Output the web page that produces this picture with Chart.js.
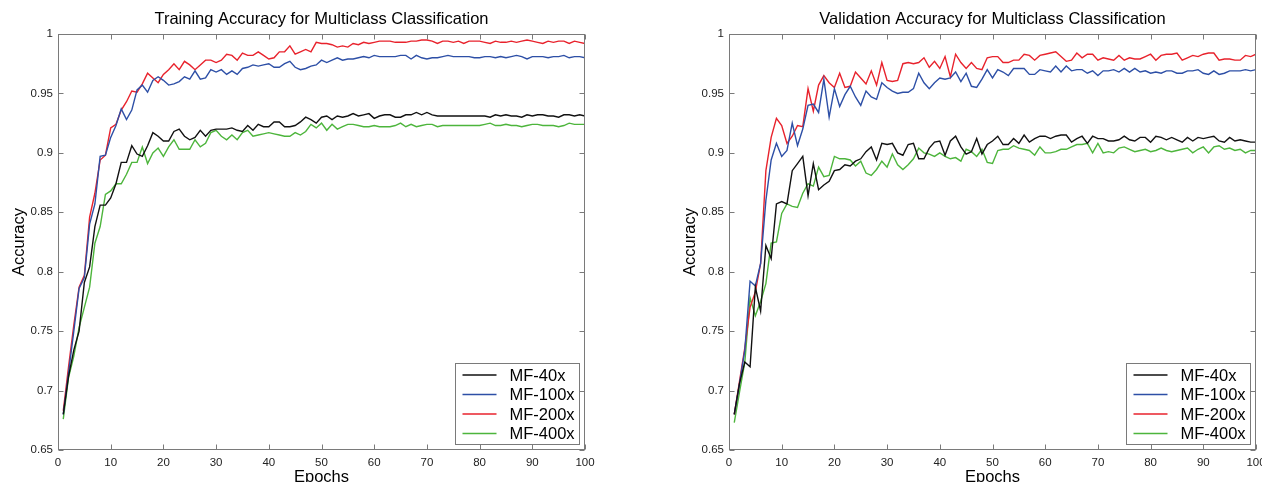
<!DOCTYPE html>
<html>
<head>
<meta charset="utf-8">
<script src="https://cdn.jsdelivr.net/npm/chart.js@4.4.1/dist/chart.umd.min.js"></script>
<style>
	html, body { margin: 0; padding: 0; background: #fff; }
	#wrap { position: relative; width: 1262px; height: 482px; overflow: hidden; }
	canvas { position: absolute; top: 0; }
</style>
</head>
<body>
<div id="wrap">
	<canvas id="chart-train" width="631" height="482" style="left:0"></canvas>
	<canvas id="chart-valid" width="631" height="482" style="left:631px"></canvas>
</div>
<script>
// Series names and epochs (x axis runs 0..100)
const SERIES_NAMES = ["MF-40x", "MF-100x", "MF-200x", "MF-400x"];
const EPOCHS = Array.from({ length: 100 }, (_, i) => i + 1);

// Tick values
const X_TICKS = [0, 10, 20, 30, 40, 50, 60, 70, 80, 90, 100];
const Y_TICKS = [0.65, 0.7, 0.75, 0.8, 0.85, 0.9, 0.95, 1];

// Training accuracy
const TRAIN_40X = [
	0.680, 0.712, 0.734, 0.750, 0.791, 0.804, 0.838, 0.856, 0.856, 0.862,
	0.874, 0.892, 0.892, 0.906, 0.899, 0.897, 0.906, 0.917, 0.914, 0.910,
	0.910, 0.918, 0.920, 0.914, 0.911, 0.913, 0.919, 0.914, 0.919, 0.920,
	0.920, 0.920, 0.921, 0.919, 0.918, 0.923, 0.919, 0.924, 0.922, 0.922,
	0.926, 0.926, 0.922, 0.922, 0.923, 0.926, 0.930, 0.928, 0.925, 0.930,
	0.931, 0.928, 0.931, 0.930, 0.931, 0.933, 0.931, 0.932, 0.933, 0.929,
	0.931, 0.932, 0.932, 0.930, 0.930, 0.932, 0.932, 0.934, 0.932, 0.934,
	0.932, 0.931, 0.931, 0.931, 0.931, 0.931, 0.931, 0.931, 0.931, 0.931,
	0.931, 0.930, 0.932, 0.931, 0.932, 0.931, 0.931, 0.930, 0.932, 0.931,
	0.932, 0.932, 0.931, 0.931, 0.930, 0.932, 0.932, 0.931, 0.932, 0.931,
];
const TRAIN_100X = [
	0.680, 0.715, 0.750, 0.786, 0.795, 0.840, 0.857, 0.897, 0.898, 0.913,
	0.923, 0.937, 0.928, 0.936, 0.953, 0.957, 0.951, 0.961, 0.964, 0.961,
	0.957, 0.958, 0.960, 0.964, 0.962, 0.969, 0.962, 0.963, 0.970, 0.968,
	0.970, 0.966, 0.969, 0.966, 0.971, 0.972, 0.974, 0.973, 0.974, 0.975,
	0.972, 0.972, 0.975, 0.977, 0.972, 0.970, 0.971, 0.973, 0.974, 0.978,
	0.976, 0.978, 0.980, 0.978, 0.979, 0.979, 0.980, 0.981, 0.980, 0.982,
	0.981, 0.981, 0.981, 0.981, 0.982, 0.982, 0.979, 0.982, 0.980, 0.979,
	0.980, 0.980, 0.981, 0.982, 0.981, 0.981, 0.981, 0.981, 0.980, 0.980,
	0.981, 0.981, 0.980, 0.981, 0.980, 0.981, 0.982, 0.981, 0.979, 0.981,
	0.981, 0.981, 0.980, 0.981, 0.981, 0.982, 0.980, 0.981, 0.981, 0.980,
];
const TRAIN_200X = [
	0.683, 0.720, 0.755, 0.787, 0.797, 0.846, 0.866, 0.894, 0.898, 0.921,
	0.924, 0.936, 0.943, 0.952, 0.951, 0.958, 0.967, 0.963, 0.959, 0.966,
	0.970, 0.975, 0.970, 0.977, 0.974, 0.970, 0.974, 0.978, 0.978, 0.976,
	0.978, 0.983, 0.982, 0.978, 0.984, 0.982, 0.982, 0.985, 0.982, 0.979,
	0.980, 0.985, 0.985, 0.990, 0.983, 0.985, 0.987, 0.985, 0.993, 0.992,
	0.992, 0.991, 0.989, 0.990, 0.989, 0.992, 0.991, 0.993, 0.992, 0.993,
	0.994, 0.994, 0.994, 0.993, 0.993, 0.993, 0.994, 0.994, 0.995, 0.995,
	0.994, 0.992, 0.994, 0.994, 0.993, 0.994, 0.992, 0.994, 0.994, 0.994,
	0.993, 0.992, 0.994, 0.993, 0.993, 0.994, 0.993, 0.994, 0.995, 0.994,
	0.993, 0.992, 0.994, 0.993, 0.994, 0.994, 0.992, 0.994, 0.993, 0.992,
];
const TRAIN_400X = [
	0.676, 0.711, 0.729, 0.753, 0.770, 0.787, 0.824, 0.838, 0.865, 0.868,
	0.874, 0.874, 0.882, 0.892, 0.892, 0.905, 0.891, 0.900, 0.904, 0.897,
	0.905, 0.911, 0.903, 0.903, 0.903, 0.911, 0.905, 0.908, 0.917, 0.919,
	0.914, 0.911, 0.915, 0.911, 0.917, 0.919, 0.914, 0.915, 0.916, 0.917,
	0.916, 0.915, 0.914, 0.914, 0.917, 0.915, 0.918, 0.924, 0.921, 0.925,
	0.919, 0.924, 0.920, 0.922, 0.924, 0.924, 0.923, 0.922, 0.922, 0.923,
	0.922, 0.922, 0.922, 0.923, 0.925, 0.922, 0.924, 0.922, 0.923, 0.924,
	0.924, 0.922, 0.923, 0.923, 0.923, 0.923, 0.923, 0.923, 0.923, 0.923,
	0.924, 0.925, 0.923, 0.923, 0.924, 0.923, 0.923, 0.922, 0.923, 0.924,
	0.924, 0.923, 0.923, 0.923, 0.922, 0.923, 0.925, 0.924, 0.924, 0.924,
];

// Validation accuracy
const VALID_40X = [
	0.680, 0.706, 0.724, 0.720, 0.787, 0.767, 0.822, 0.811, 0.857, 0.859,
	0.857, 0.885, 0.891, 0.897, 0.864, 0.891, 0.869, 0.873, 0.876, 0.885,
	0.886, 0.890, 0.889, 0.893, 0.895, 0.901, 0.905, 0.894, 0.908, 0.907,
	0.908, 0.900, 0.898, 0.907, 0.908, 0.895, 0.895, 0.904, 0.909, 0.910,
	0.898, 0.910, 0.914, 0.905, 0.899, 0.901, 0.912, 0.899, 0.907, 0.910,
	0.914, 0.907, 0.907, 0.912, 0.908, 0.915, 0.909, 0.912, 0.914, 0.914,
	0.912, 0.914, 0.915, 0.915, 0.909, 0.912, 0.914, 0.908, 0.914, 0.912,
	0.912, 0.910, 0.910, 0.911, 0.914, 0.911, 0.910, 0.913, 0.913, 0.909,
	0.914, 0.913, 0.911, 0.913, 0.911, 0.909, 0.913, 0.910, 0.913, 0.912,
	0.913, 0.914, 0.910, 0.909, 0.913, 0.910, 0.911, 0.910, 0.909, 0.909,
];
const VALID_100X = [
	0.680, 0.706, 0.734, 0.792, 0.788, 0.807, 0.860, 0.894, 0.908, 0.897,
	0.902, 0.925, 0.906, 0.920, 0.940, 0.941, 0.934, 0.962, 0.930, 0.954,
	0.939, 0.949, 0.956, 0.947, 0.940, 0.952, 0.947, 0.945, 0.959, 0.955,
	0.952, 0.950, 0.951, 0.951, 0.954, 0.967, 0.959, 0.954, 0.959, 0.963,
	0.962, 0.963, 0.968, 0.960, 0.967, 0.956, 0.955, 0.962, 0.970, 0.963,
	0.970, 0.968, 0.965, 0.971, 0.971, 0.971, 0.966, 0.966, 0.970, 0.969,
	0.968, 0.973, 0.968, 0.973, 0.969, 0.970, 0.970, 0.967, 0.969, 0.965,
	0.969, 0.969, 0.970, 0.968, 0.971, 0.968, 0.971, 0.968, 0.969, 0.967,
	0.968, 0.967, 0.969, 0.969, 0.967, 0.967, 0.969, 0.969, 0.970, 0.967,
	0.966, 0.969, 0.966, 0.967, 0.969, 0.969, 0.969, 0.970, 0.969, 0.970,
];
const VALID_200X = [
	0.680, 0.708, 0.736, 0.770, 0.783, 0.807, 0.885, 0.913, 0.929, 0.923,
	0.908, 0.914, 0.923, 0.922, 0.954, 0.935, 0.957, 0.965, 0.959, 0.955,
	0.967, 0.955, 0.956, 0.968, 0.963, 0.958, 0.969, 0.957, 0.976, 0.961,
	0.960, 0.961, 0.975, 0.976, 0.975, 0.976, 0.980, 0.972, 0.977, 0.971,
	0.981, 0.964, 0.983, 0.976, 0.971, 0.976, 0.971, 0.970, 0.980, 0.981,
	0.981, 0.976, 0.976, 0.978, 0.978, 0.983, 0.982, 0.978, 0.982, 0.983,
	0.984, 0.985, 0.981, 0.977, 0.978, 0.984, 0.980, 0.983, 0.983, 0.978,
	0.980, 0.979, 0.978, 0.982, 0.978, 0.980, 0.979, 0.979, 0.981, 0.983,
	0.978, 0.982, 0.983, 0.983, 0.984, 0.978, 0.980, 0.982, 0.981, 0.983,
	0.984, 0.984, 0.978, 0.979, 0.979, 0.978, 0.978, 0.982, 0.981, 0.983,
];
const VALID_400X = [
	0.673, 0.699, 0.724, 0.778, 0.763, 0.775, 0.790, 0.824, 0.825, 0.849,
	0.857, 0.855, 0.854, 0.866, 0.874, 0.872, 0.888, 0.880, 0.881, 0.897,
	0.895, 0.895, 0.894, 0.889, 0.893, 0.883, 0.881, 0.886, 0.893, 0.888,
	0.899, 0.890, 0.886, 0.890, 0.895, 0.904, 0.900, 0.899, 0.897, 0.900,
	0.897, 0.895, 0.896, 0.893, 0.903, 0.901, 0.897, 0.903, 0.892, 0.891,
	0.902, 0.903, 0.903, 0.906, 0.904, 0.903, 0.902, 0.898, 0.905, 0.900,
	0.900, 0.901, 0.903, 0.903, 0.905, 0.907, 0.907, 0.908, 0.900, 0.908,
	0.900, 0.901, 0.900, 0.904, 0.905, 0.903, 0.901, 0.902, 0.903, 0.901,
	0.902, 0.904, 0.902, 0.901, 0.902, 0.903, 0.904, 0.900, 0.903, 0.905,
	0.900, 0.905, 0.906, 0.903, 0.904, 0.902, 0.903, 0.900, 0.902, 0.902,
];

const COLORS = ["#111111", "#2d4fa6", "#e8222c", "#4db53c"];
const FONT = "'Liberation Sans', Arial, sans-serif";
const FRAME_COLOR = "#7a7a7a";
const TICK_LEN = 5;

//---------------------------------------------------------
// Plugins
//---------------------------------------------------------

// Box around the plot area with inward ticks on all four sides
const framePlugin = {
	id: "frame",
	afterDatasetsDraw(chart) {
		const { ctx, chartArea: a, scales } = chart;
		const l = Math.round(a.left) + 0.5;
		const r = Math.round(a.right) - 0.5;
		const t = Math.round(a.top) + 0.5;
		const b = Math.round(a.bottom) - 0.5;
		ctx.save();
		ctx.strokeStyle = FRAME_COLOR;
		ctx.lineWidth = 1;
		ctx.beginPath();
		scales.x.ticks.forEach((tk) => {
			const px = Math.round(scales.x.getPixelForValue(tk.value)) + 0.5;
			ctx.moveTo(px, b);
			ctx.lineTo(px, b - TICK_LEN);
			ctx.moveTo(px, t);
			ctx.lineTo(px, t + TICK_LEN);
		});
		scales.y.ticks.forEach((tk) => {
			const py = Math.round(scales.y.getPixelForValue(tk.value)) + 0.5;
			ctx.moveTo(l, py);
			ctx.lineTo(l + TICK_LEN, py);
			ctx.moveTo(r, py);
			ctx.lineTo(r - TICK_LEN, py);
		});
		ctx.stroke();
		ctx.strokeRect(l, t, r - l, b - t);
		ctx.restore();
	},
};

// Title and axis labels, centred on the plot area
const textPlugin = {
	id: "texts",
	afterDraw(chart, args, opts) {
		const { ctx, chartArea: a } = chart;
		const cx = (a.left + a.right) / 2;
		const cy = (a.top + a.bottom) / 2;
		ctx.save();
		ctx.fillStyle = "#000";
		ctx.textAlign = "center";
		ctx.textBaseline = "alphabetic";
		ctx.font = `16.5px ${FONT}`;
		ctx.fillText(opts.title, cx, 24);
		ctx.font = `16.5px ${FONT}`;
		ctx.fillText("Epochs", cx, 482);
		ctx.translate(a.left - 34, cy);
		ctx.rotate(-Math.PI / 2);
		ctx.fillText("Accuracy", 0, 0);
		ctx.restore();
	},
};

// Legend box in the lower right corner of the plot area
const legendPlugin = {
	id: "boxLegend",
	afterDatasetsDraw(chart) {
		const { ctx, chartArea: a } = chart;
		const w = 124;
		const h = 81;
		const x0 = Math.round(a.right - 6 - w) + 0.5;
		const y0 = Math.round(a.bottom - 6 - h) + 0.5;
		ctx.save();
		ctx.fillStyle = "#fff";
		ctx.fillRect(x0, y0, w, h);
		ctx.strokeStyle = FRAME_COLOR;
		ctx.lineWidth = 1;
		ctx.strokeRect(x0, y0, w, h);
		ctx.font = `16.5px ${FONT}`;
		ctx.textBaseline = "middle";
		ctx.textAlign = "left";
		chart.data.datasets.forEach((ds, i) => {
			const yy = y0 + 11.5 + i * 19.5;
			ctx.strokeStyle = ds.borderColor;
			ctx.lineWidth = 1.5;
			ctx.beginPath();
			ctx.moveTo(x0 + 7, yy);
			ctx.lineTo(x0 + 41, yy);
			ctx.stroke();
			ctx.fillStyle = "#000";
			ctx.fillText(ds.label, x0 + 54, yy + 1);
		});
		ctx.restore();
	},
};

//---------------------------------------------------------
// Chart builder
//---------------------------------------------------------

const makeChart = (id, title, seriesList, axisWidth, padRight) => {
	const CHART_DATA = {
		datasets: seriesList.map((values, i) => ({
			label: SERIES_NAMES[i],
			data: EPOCHS.map((e, j) => ({ x: e, y: values[j] })),
			borderColor: COLORS[i],
			backgroundColor: COLORS[i],
			borderWidth: 1.4,
			pointRadius: 0,
			tension: 0,
			fill: false,
		})),
	};

	const CHART_CONFIG = {
		type: "line",
		data: CHART_DATA,
		options: {
			responsive: false,
			animation: false,
			devicePixelRatio: 1,
			layout: {
				padding: { left: 0, top: 34, right: padRight, bottom: 0 },
			},
			plugins: {
				legend: { display: false },
				title: { display: false },
				tooltip: { enabled: false },
				texts: { title: title },
			},
			scales: {
				x: {
					type: "linear",
					min: 0,
					max: 100,
					border: { display: false },
					grid: { display: false, drawTicks: false },
					afterBuildTicks: (s) => {
						s.ticks = X_TICKS.map((v) => ({ value: v }));
					},
					ticks: {
						padding: 6,
						color: "#222",
						maxRotation: 0,
						autoSkip: false,
						font: { family: FONT, size: 11.5 },
					},
					afterFit: (s) => {
						s.height = 32;
						s.paddingLeft = 0;
						s.paddingRight = 0;
					},
				},
				y: {
					min: 0.65,
					max: 1,
					border: { display: false },
					grid: { display: false, drawTicks: false },
					afterBuildTicks: (s) => {
						s.ticks = Y_TICKS.map((v) => ({ value: v }));
					},
					ticks: {
						padding: 5,
						color: "#222",
						autoSkip: false,
						font: { family: FONT, size: 11.5 },
						callback: (v) => String(+v.toFixed(2)),
					},
					afterFit: (s) => {
						s.width = axisWidth;
						s.paddingTop = 0;
						s.paddingBottom = 0;
					},
				},
			},
		},
		plugins: [framePlugin, legendPlugin, textPlugin],
	};

	return new Chart(document.getElementById(id), CHART_CONFIG);
};

makeChart(
	"chart-train",
	"Training Accuracy for Multiclass Classification",
	[TRAIN_40X, TRAIN_100X, TRAIN_200X, TRAIN_400X],
	58,
	46
);
makeChart(
	"chart-valid",
	"Validation Accuracy for Multiclass Classification",
	[VALID_40X, VALID_100X, VALID_200X, VALID_400X],
	98,
	6
);
</script>
</body>
</html>
